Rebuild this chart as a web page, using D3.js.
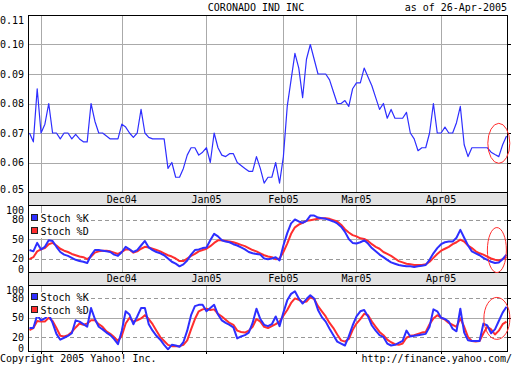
<!DOCTYPE html>
<html>
<head>
<meta charset="utf-8">
<script src="https://cdn.jsdelivr.net/npm/d3@7"></script>
<style>
  body { margin: 0; background: #fff; }
  svg { display: block; }
  text { font-family: "DejaVu Sans Mono", monospace; font-size: 10px; fill: #000; }
</style>
</head>
<body>
<div id="chart"></div>
<script>
// chart text
var title = "CORONADO IND INC";
var asOf = "as of 26-Apr-2005";
var copyright = "Copyright 2005 Yahoo! Inc.";
var source = "http://finance.yahoo.com/";
var legendLabels = ["Stoch %K", "Stoch %D"];

// daily close, 27-Oct-2004 .. 26-Apr-2005 (trading days)
var price = [
  .070,.067,.085,.070,.073,.080,.070,.070,.068,.070,
  .070,.068,.0695,.068,.067,.067,.080,.074,.070,.070,
  .069,.068,.068,.068,.073,.072,.070,.0685,.070,.078,
  .070,.0685,.068,.068,.068,.068,.058,.060,.055,.055,
  .058,.0625,.065,.065,.0625,.0635,.065,.060,.070,.065,
  .0625,.062,.063,.063,.060,.059,.058,.057,.057,.062,
  .058,.053,.055,.055,.060,.053,.062,.079,.088,.097,
  .092,.082,.095,.100,.095,.090,.090,.090,.088,.084,
  .080,.080,.081,.079,.085,.087,.087,.092,.089,.086,
  .082,.078,.080,.075,.078,.075,.075,.075,.077,.070,
  .068,.064,.065,.065,.070,.080,.070,.070,.072,.070,
  .070,.0735,.079,.066,.062,.065,.065,.065,.065,.065,
  .0635,.0627,.062,.066,.069
];

// slow stochastic
var slowK = [
  33,31,44,34,38,48,47,38,30,26,
  24,21,18,16,15,13,25,33,33,32,
  31,30,26,24,30,38,34,30,33,40,
  47,37,33,30,28,25,20,15,12,8,
  11,17,26,33,34,36,37,48,58,54,
  48,46,45,42,40,37,34,30,28,27,
  26,20,19,20,22,17,40,59,74,80,
  77,75,78,86,86,83,82,81,79,77,
  74,69,61,50,44,43,45,48,43,36,
  31,26,22,18,14,12,10,9,8,8,
  7,8,9,10,18,28,36,42,45,46,
  46,52,64,52,40,31,28,25,21,18,
  15,13,14,19,26
];
var slowD = [
  19,22,31,34,36,42,44,40,35,32,
  30,27,25,23,22,19,23,29,31,32,
  32,31,29,27,30,34,34,29,31,35,
  38,37,35,33,31,28,25,23,20,16,
  16,20,24,27,31,33,35,39,44,48,
  48,47,46,45,43,41,39,36,33,31,
  28,25,23,22,19,20,30,43,58,68,
  72,75,78,79,80,81,82,82,81,79,
  77,72,65,60,56,54,51,50,47,42,
  38,35,30,27,24,20,16,14,12,11,
  10,10,10,11,15,21,27,32,35,38,
  42,45,49,46,40,36,31,28,26,23,
  20,18,17,19,22
];

// fast stochastic
var fastK = [
  34,34,54,46,49,55,42,25,16,19,
  22,26,46,44,40,36,65,48,36,32,
  27,23,17,9,30,60,55,40,52,65,
  65,40,30,22,16,8,1,8,7,5,
  12,30,54,68,70,70,60,65,70,55,
  46,42,39,35,18,21,23,27,42,64,
  48,39,37,40,52,37,58,77,87,91,
  80,72,79,85,80,62,51,44,33,23,
  13,10,7,21,38,52,60,62,52,38,
  30,23,20,10,7,8,11,14,30,21,
  22,23,24,25,36,63,60,50,48,44,
  33,29,64,27,15,14,14,14,41,38,
  26,32,45,58,67
];
var fastD = [
  31,34,45,44,44,50,45,34,22,21,
  23,28,35,41,39,41,46,46,40,36,
  29,25,20,14,22,41,50,44,46,49,
  54,48,40,30,20,14,8,6,6,6,
  8,15,32,48,60,63,64,62,63,56,
  52,47,42,39,30,28,27,30,36,48,
  44,36,34,37,40,44,53,62,73,80,
  78,74,75,82,79,68,60,52,42,34,
  24,15,13,17,31,41,48,56,54,44,
  36,28,23,16,12,9,8,10,19,22,
  23,25,27,28,40,49,54,50,47,42,
  39,36,49,36,20,14,13,14,26,36,
  32,24,30,40,44
];

// month starts (trading-day index) and their labels
var monthIdx = [3, 24, 46, 66, 85, 107];
var monthLabels = ["", "Dec04", "Jan05", "Feb05", "Mar05", "Apr05"];
var priceTicks = [0.05, 0.06, 0.07, 0.08, 0.09, 0.10, 0.11];
var stochTicks = [0, 20, 50, 80, 100];

var W = 512, H = 365, L = 28, R = 507.5;
var BLUE = "#2e2eff", RED = "#ff2e2e", GRID = "#aaaaaa";

var svg = d3.select("#chart").append("svg")
  .attr("width", W)
  .attr("height", H);

var x = d3.scaleLinear().domain([0, price.length - 1]).range([29.5, 506.5]);

svg.append("text").attr("x", 256).attr("y", 11).attr("text-anchor", "middle").text(title);
svg.append("text").attr("x", 507).attr("y", 11).attr("text-anchor", "end").text(asOf);
svg.append("text").attr("x", 0).attr("y", 362).text(copyright);
svg.append("text").attr("x", 512).attr("y", 362).attr("text-anchor", "end").text(source);

function panel(id, top, bottom, y, ticks, fmt, dashed) {
  var g = svg.append("g");
  g.append("clipPath").attr("id", id)
    .append("rect").attr("x", L).attr("y", top).attr("width", R - L).attr("height", bottom - top);

  // vertical month grid
  g.selectAll(".vg").data(monthIdx).enter().append("line")
    .attr("x1", function(d){ return Math.round(x(d)) + 0.5; })
    .attr("x2", function(d){ return Math.round(x(d)) + 0.5; })
    .attr("y1", top).attr("y2", bottom)
    .attr("stroke", GRID).attr("shape-rendering", "crispEdges");
  g.selectAll(".vt").data(monthIdx).enter().append("line")
    .attr("x1", function(d){ return Math.round(x(d)) + 0.5; })
    .attr("x2", function(d){ return Math.round(x(d)) + 0.5; })
    .attr("y1", bottom).attr("y2", bottom + 3)
    .attr("stroke", "#000").attr("shape-rendering", "crispEdges");

  // horizontal grid
  var inner = ticks.slice(1, -1);
  g.selectAll(".hg").data(inner).enter().append("line")
    .attr("x1", L).attr("x2", R)
    .attr("y1", function(d){ return Math.round(y(d)) + 0.5; })
    .attr("y2", function(d){ return Math.round(y(d)) + 0.5; })
    .attr("stroke", function(d){ return dashed(d) ? "#999" : GRID; })
    .attr("stroke-dasharray", function(d){ return dashed(d) ? "4,3" : null; })
    .attr("shape-rendering", "crispEdges");
  g.selectAll(".ht").data(inner).enter().append("line")
    .attr("x1", R).attr("x2", R + 3)
    .attr("y1", function(d){ return Math.round(y(d)) + 0.5; })
    .attr("y2", function(d){ return Math.round(y(d)) + 0.5; })
    .attr("stroke", "#000").attr("shape-rendering", "crispEdges");

  g.selectAll(".yl").data(ticks).enter().append("text")
    .attr("x", 24).attr("text-anchor", "end")
    .attr("y", function(d){ return Math.max(top + 5.5, Math.min(bottom - 2.5, y(d))); })
    .attr("dy", "0.35em")
    .text(fmt);

  g.append("rect").attr("x", L + 0.5).attr("y", top + 0.5)
    .attr("width", R - L - 1).attr("height", bottom - top)
    .attr("fill", "none").attr("stroke", "#000").attr("shape-rendering", "crispEdges");
  return g;
}

function band(top, bottom) {
  var g = svg.append("g");
  g.append("rect").attr("x", L + 0.5).attr("y", top + 0.5)
    .attr("width", R - L - 1).attr("height", bottom - top)
    .attr("fill", "#e3e3e3").attr("stroke", "#000").attr("shape-rendering", "crispEdges");
  g.selectAll("text").data(monthIdx).enter().append("text")
    .attr("x", function(d){ return x(d); })
    .attr("y", (top + bottom) / 2 + 0.5).attr("dy", "0.35em")
    .attr("text-anchor", "middle")
    .text(function(d, i){ return monthLabels[i]; });
}

function series(g, clip, y, data, color, width) {
  g.append("path").datum(data)
    .attr("clip-path", "url(#" + clip + ")")
    .attr("fill", "none").attr("stroke", color).attr("stroke-width", width)
    .attr("stroke-linejoin", "round")
    .attr("d", d3.line().x(function(d, i){ return x(i); }).y(function(d){ return y(d); }));
}

function legend(g, top) {
  g.append("rect").attr("x", 29).attr("y", top - 1).attr("width", 58).attr("height", 25).attr("fill", "#fff");
  [BLUE, RED].forEach(function(c, i) {
    g.append("rect").attr("x", 31.5).attr("y", top + 0.5 + i * 13)
      .attr("width", 6).attr("height", 6)
      .attr("fill", c).attr("stroke", "#222");
    g.append("text").attr("x", 40.5).attr("y", top + 4 + i * 13).attr("dy", "0.35em")
      .text(legendLabels[i]);
  });
}

var fmtPrice = function(d){ return d.toFixed(2); };
var fmtStoch = function(d){ return String(d); };
var notFifty = function(d){ return d !== 50; };

// price panel
var yP = d3.scaleLinear().domain([0.05, 0.11]).range([192, 15]);
var gP = panel("clipP", 15, 192, yP, priceTicks, fmtPrice, function(){ return false; });
series(gP, "clipP", yP, price, BLUE, 1.2);

// slow stochastic panel
band(192, 205);
var yS1 = d3.scaleLinear().domain([0, 100]).range([271.5, 206.5]);
var gS1 = panel("clipS1", 205, 271.5, yS1, stochTicks, fmtStoch, notFifty);
series(gS1, "clipS1", yS1, slowD, RED, 2);
series(gS1, "clipS1", yS1, slowK, BLUE, 2);
legend(gS1, 214);

// fast stochastic panel
band(271.5, 284.5);
var yS2 = d3.scaleLinear().domain([0, 100]).range([350, 285.5]);
var gS2 = panel("clipS2", 284.5, 350.5, yS2, stochTicks, fmtStoch, notFifty);
series(gS2, "clipS2", yS2, fastD, RED, 2);
series(gS2, "clipS2", yS2, fastK, BLUE, 2);
legend(gS2, 293);

// hand-drawn red circles around the latest days
var marks = [
  { cx: x(122), cy: yP(0.0665), rx: 11, ry: 20 },
  { cx: x(121.5), cy: yS1(33), rx: 9.5, ry: 22.5 },
  { cx: x(121.5), cy: yS2(49), rx: 13, ry: 21 }
];
svg.selectAll(".mark").data(marks).enter().append("ellipse")
  .attr("cx", function(d){ return d.cx; }).attr("cy", function(d){ return d.cy; })
  .attr("rx", function(d){ return d.rx; }).attr("ry", function(d){ return d.ry; })
  .attr("fill", "none").attr("stroke", RED).attr("stroke-width", 1);
</script>
</body>
</html>
